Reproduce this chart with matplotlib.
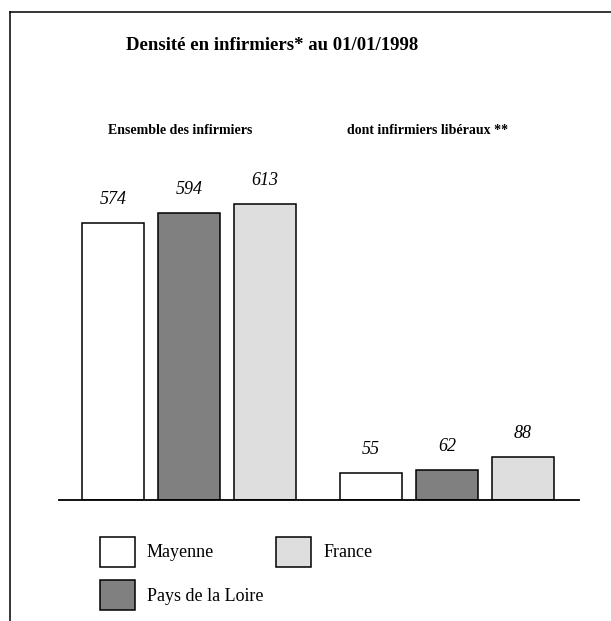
"""Densité en infirmiers au 01/01/1998 - grouped bar chart."""

import matplotlib

matplotlib.use("Agg")
import matplotlib.pyplot as plt
import numpy as np
from matplotlib.lines import Line2D

plt.rcParams["font.family"] = ["Liberation Serif", "DejaVu Serif"]

groups = ["Ensemble des infirmiers", "dont infirmiers libéraux **"]
regions = ["Mayenne", "Pays de la Loire", "France"]
mayenne = [574, 55]
pays_de_la_loire = [594, 62]
france = [613, 88]
colors = ["#ffffff", "#808080", "#dedede"]

fig = plt.figure(figsize=(6.11, 6.21), dpi=100)

# frame: top and left edges only
fig.add_artist(Line2D([10 / 611, 1.0], [1 - 12 / 621, 1 - 12 / 621], color="black", lw=1.1))
fig.add_artist(Line2D([10 / 611, 10 / 611], [0.0, 1 - 12 / 621], color="black", lw=1.1))

fig.text(0.445, 1 - 45 / 621, "Densité en infirmiers* au 01/01/1998",
         ha="center", va="center", fontsize=13.5, fontweight="bold")

ax = fig.add_axes([59 / 611, 121 / 621, 520 / 611, 400 / 621])
x = np.arange(len(groups))
width = 0.24
step = 0.2946
handles = []
for i, (name, vals, col) in enumerate(zip(regions, [mayenne, pays_de_la_loire, france], colors)):
    bars = ax.bar(x + (i - 1) * step, vals, width, color=col, edgecolor="black",
                  linewidth=1.1, label=name)
    handles.append(bars)
    for b, v in zip(bars, vals):
        ax.annotate(str(v), (b.get_x() + b.get_width() / 2, v), xytext=(0, 17),
                    textcoords="offset points", ha="center", va="center",
                    fontsize=13, fontstyle="italic")

for gx, label, dx in zip(x, groups, [-0.035, -0.075]):
    ax.text(gx + dx, 765, label, ha="center", va="center", fontsize=10, fontweight="bold")

ax.set_xlim(-0.504, 1.512)
ax.set_ylim(0, 828)
for side in ["top", "right", "left"]:
    ax.spines[side].set_visible(False)
ax.spines["bottom"].set_linewidth(1.3)
ax.set_xticks([])
ax.set_yticks([])
ax.patch.set_visible(False)

fig.legend(handles=handles, labels=regions, ncol=2, loc="upper left",
           bbox_to_anchor=(100 / 611, 1 - 537 / 621), frameon=False, fontsize=13,
           handlelength=1.95, handleheight=2.15, labelspacing=0.75, handletextpad=0.65,
           columnspacing=0.7, borderpad=0, borderaxespad=0)

fig.savefig("out.png", dpi=100)
